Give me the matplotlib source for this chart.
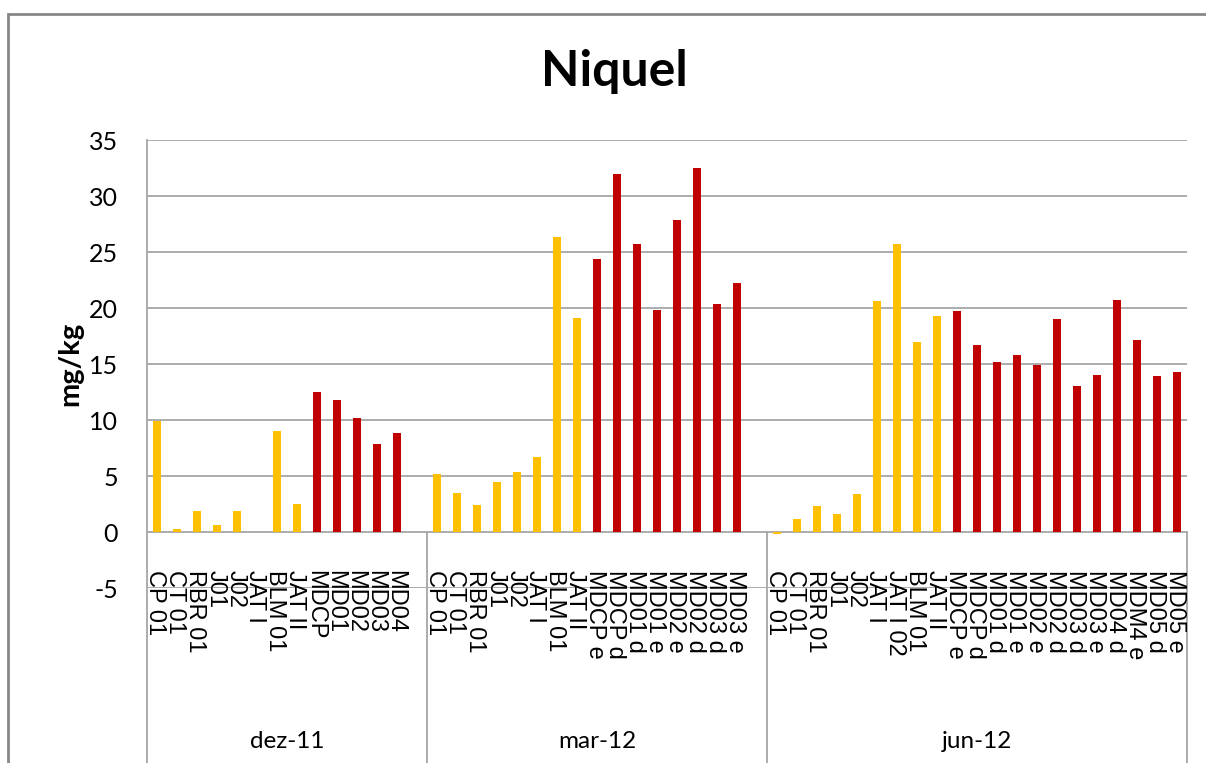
import numpy as np
import matplotlib
matplotlib.use("Agg")
import matplotlib.pyplot as plt
import matplotlib.transforms as mtransforms
from matplotlib.patches import Rectangle

plt.rcParams["axes.unicode_minus"] = False

# ---- Daten ----
campanhas = ["dez-11", "mar-12", "jun-12"]

pontos_dez11 = ["CP 01", "CT 01", "RBR 01", "J01", "J02", "JAT I", "BLM 01", "JAT II",
                "MDCP", "MD01", "MD02", "MD03", "MD04", ""]
niquel_dez11 = [9.9, 0.3, 1.9, 0.6, 1.9, np.nan, 9.0, 2.5,
                12.5, 11.8, 10.2, 7.9, 8.8, np.nan]

pontos_mar12 = ["CP 01", "CT 01", "RBR 01", "J01", "J02", "JAT I", "BLM 01", "JAT II",
                "MDCP e", "MDCP d", "MD01 d", "MD01 e", "MD02 e", "MD02 d", "MD03 d", "MD03 e", ""]
niquel_mar12 = [5.2, 3.5, 2.4, 4.5, 5.4, 6.7, 26.3, 19.1,
                24.4, 32.0, 25.7, 19.8, 27.9, 32.5, 20.4, 22.2, np.nan]

pontos_jun12 = ["CP 01", "CT 01", "RBR 01", "J01", "J02", "JAT I", "JAT I 02", "BLM 01", "JAT II",
                "MDCP e", "MDCP d", "MD01 d", "MD01 e", "MD02 e", "MD02 d", "MD03 d", "MD03 e",
                "MD04 d", "MDM4 e", "MD05 d", "MD05 e"]
niquel_jun12 = [-0.2, 1.2, 2.3, 1.6, 3.4, 20.6, 25.7, 17.0, 19.3,
                19.7, 16.7, 15.2, 15.8, 14.9, 19.0, 13.0, 14.0,
                20.7, 17.1, 13.9, 14.3]

grupos = [(pontos_dez11, niquel_dez11), (pontos_mar12, niquel_mar12), (pontos_jun12, niquel_jun12)]

AMARELO = "#FFC000"
VERMELHO = "#C00000"
CINZA = "#A6A6A6"

# ---- Figura ----
W, H = 1206, 763
fig = plt.figure(figsize=(W / 100, H / 100), dpi=100)
ax = fig.add_axes([147 / W, 1 - 588 / H, 1040 / W, 448 / H])

nomes = []
valores = []
limites = [0]
for pts, vals in grupos:
    nomes += pts
    valores += vals
    limites.append(limites[-1] + len(pts))

x = np.arange(len(nomes)) + 0.5
valores = np.array(valores, dtype=float)
cores = [VERMELHO if n.startswith("MD") else AMARELO for n in nomes]

ax.bar(x, valores, width=0.42, color=cores, edgecolor="none", zorder=3)

ax.set_xlim(0, len(nomes))
ax.set_ylim(-5, 35)
ax.set_yticks(np.arange(-5, 36, 5))
ax.set_xticks([])
for s in ax.spines.values():
    s.set_visible(False)
ax.tick_params(axis="y", length=0, pad=21, labelsize=18)
for lab in ax.get_yticklabels():
    lab.set_fontfamily("Lato")
ax.yaxis.grid(True, color=CINZA, linewidth=1.3, zorder=0)
ax.set_axisbelow(True)

trans = mtransforms.blended_transform_factory(ax.transData, ax.transAxes)
y_zero = 5 / 40
y_fundo = (588 - H) / 448

# eixo vertical e divisórias das campanhas
ax.plot([0, 0], [1, y_fundo], transform=ax.transAxes, color=CINZA, lw=1.3, clip_on=False)
for b in limites[1:]:
    ax.plot([b, b], [y_zero, y_fundo], transform=trans, color=CINZA, lw=1.3, clip_on=False)

# rótulos dos pontos
for xi, n in zip(x, nomes):
    ax.text(xi - 0.08, 0.04, n, transform=trans, rotation=-90, ha="center", va="top",
            fontsize=17, family="Liberation Sans", color="black")

# rótulos das campanhas
for i, c in enumerate(campanhas):
    xm = (limites[i] + limites[i + 1]) / 2
    ax.text(xm, (588 - 741) / 448, c, transform=trans, ha="center", va="center",
            fontsize=17.5, family="Lato")

fig.text(614 / W, 1 - 72 / H, "Niquel", ha="center", va="center",
         fontsize=36, fontweight="bold", family="Lato")
fig.text(70 / W, 1 - 364 / H, "mg/kg", rotation=90, ha="center", va="center",
         fontsize=21, fontweight="bold", family="Lato")

# moldura do gráfico
fig.add_artist(Rectangle((8 / W, -0.2), 1.2, 1.2 - 14 / H, transform=fig.transFigure,
                         fill=False, edgecolor="#878787", lw=2, clip_on=False))

fig.savefig("out.png", dpi=100)
